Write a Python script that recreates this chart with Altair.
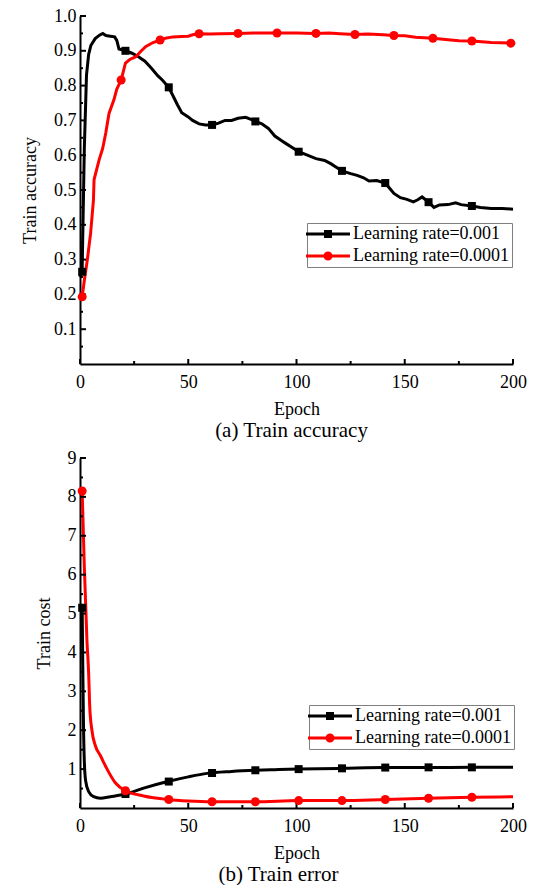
import altair as alt
import pandas as pd

FONT = "Liberation Serif"
SERIES = ["Learning rate=0.001", "Learning rate=0.0001"]
COLORS = ["black", "red"]

# ---------- (a) Train accuracy ----------
acc_black_epoch = [0, 1, 2, 3, 4, 5, 7, 9, 10.5, 12, 14, 16, 17, 18, 21, 24, 27, 30, 33, 36,
                   38, 41, 43, 45, 47, 50, 52, 55, 58, 61, 64, 67, 70, 73, 76.5, 79, 81, 84, 87, 90,
                   93, 95, 98, 101, 105, 109, 113, 116, 118, 121, 125, 128, 131, 133.5, 137, 141, 143, 145, 148, 151,
                   154, 156, 158, 161, 163.5, 166, 170, 173.5, 176, 181, 185, 190, 195, 200]
acc_black_value = [0.25, 0.27, 0.62, 0.83, 0.89, 0.915, 0.935, 0.945, 0.95, 0.944,
                   0.942, 0.94, 0.93, 0.905, 0.90, 0.893, 0.883, 0.87, 0.85, 0.828,
                   0.816, 0.795, 0.77, 0.745, 0.722, 0.71, 0.70, 0.69, 0.687, 0.687,
                   0.692, 0.70, 0.70, 0.706, 0.709, 0.703, 0.697, 0.69, 0.677, 0.655,
                   0.642, 0.634, 0.622, 0.61, 0.60, 0.59, 0.585, 0.575, 0.567, 0.555,
                   0.547, 0.542, 0.535, 0.526, 0.527, 0.52, 0.505, 0.49, 0.478, 0.473,
                   0.466, 0.472, 0.48, 0.465, 0.45, 0.457, 0.458, 0.463, 0.458, 0.454,
                   0.45, 0.447, 0.447, 0.445]
acc_black_mark_epoch = [1, 21, 41, 61, 81, 101, 121, 141, 161, 181]
acc_black_mark_value = [0.265, 0.90, 0.795, 0.687, 0.697, 0.61, 0.555, 0.52, 0.465, 0.454]

acc_red_epoch = [1, 2, 3.4, 4.9, 6.2, 6.5, 8.8, 10.5, 11.9, 13.4,
                 15.7, 17, 19, 20, 21, 23, 25.8, 28, 30.3, 33.5,
                 37, 40, 43, 47, 50, 52, 55, 60, 65, 73,
                 80, 91, 100, 109, 115, 120, 127, 133, 140, 145,
                 150, 155, 163, 170, 175, 181, 190, 199]
acc_red_value = [0.193, 0.24, 0.30, 0.376, 0.47, 0.53, 0.586, 0.62, 0.664, 0.72,
                 0.76, 0.79, 0.816, 0.84, 0.865, 0.875, 0.883, 0.898, 0.912, 0.923,
                 0.931, 0.937, 0.94, 0.941, 0.942, 0.946, 0.949, 0.948, 0.949, 0.95,
                 0.951, 0.951, 0.951, 0.95, 0.951, 0.949, 0.947, 0.948, 0.946, 0.944,
                 0.943, 0.939, 0.936, 0.932, 0.929, 0.928, 0.924, 0.922]
acc_red_mark_epoch = [1, 19, 37, 55, 73, 91, 109, 127, 145, 163, 181, 199]
acc_red_mark_value = [0.193, 0.816, 0.931, 0.949, 0.95, 0.951, 0.95, 0.947, 0.944, 0.936, 0.928, 0.922]

# ---------- (b) Train error ----------
cost_black_epoch = [1, 1.3, 1.6, 2, 2.6, 4, 6.3, 9.4, 14, 21,
                    29.4, 40.5, 50, 58.7, 70, 81, 90, 101, 121, 141,
                    161, 181, 200]
cost_black_value = [5.15, 3.6, 2.2, 1.2, 0.7, 0.42, 0.29, 0.25, 0.29, 0.36,
                    0.51, 0.68, 0.8, 0.89, 0.94, 0.97, 0.985, 1.0, 1.02, 1.04,
                    1.04, 1.045, 1.045]
cost_black_mark_epoch = [1, 21, 41, 61, 81, 101, 121, 141, 161, 181]
cost_black_mark_value = [5.15, 0.36, 0.68, 0.9, 0.97, 1.0, 1.02, 1.04, 1.045, 1.045]

cost_red_epoch = [1, 2, 3.2, 4, 4.5, 5.5, 7.1, 9.4, 12.5, 16.3,
                  20.9, 29.4, 40.5, 50, 61, 81, 101, 121, 141, 161,
                  181, 200]
cost_red_value = [8.15, 6.2, 4.32, 3.46, 2.6, 2.0, 1.6, 1.35, 1.0, 0.65,
                  0.445, 0.31, 0.22, 0.18, 0.16, 0.16, 0.19, 0.19, 0.22, 0.25,
                  0.275, 0.29]
cost_red_mark_epoch = [1, 21, 41, 61, 81, 101, 121, 141, 161, 181]
cost_red_mark_value = [8.15, 0.445, 0.22, 0.16, 0.16, 0.19, 0.19, 0.22, 0.25, 0.275]

# ---------- ticks ----------
x_label_values = [0, 50, 100, 150, 200]
x_minor_values = [25, 75, 125, 175]
acc_label_values = [0.1, 0.2, 0.3, 0.4, 0.5, 0.6, 0.7, 0.8, 0.9, 1.0]
acc_minor_values = [0.05, 0.15, 0.25, 0.35, 0.45, 0.55, 0.65, 0.75, 0.85, 0.95]
cost_label_values = [1, 2, 3, 4, 5, 6, 7, 8, 9]
cost_minor_values = [0.5, 1.5, 2.5, 3.5, 4.5, 5.5, 6.5, 7.5, 8.5]

W = 433
SQ_PATH = "M-4.4,0H4.4M-0.5,-0.5H0.5V0.5H-0.5Z"
CI_PATH = "M-4.4,0H4.4M0.6,0A0.6,0.6,0,1,1,-0.6,0A0.6,0.6,0,1,1,0.6,0Z"


def df(e, v):
    assert len(e) == len(v)
    return pd.DataFrame({"epoch": e, "value": v})


def panel(black, black_m, red, red_m, y_max, y_labels, y_minor, y_fmt, y_title,
          caption, cap_dx, leg_x, leg_y, H, interp):
    xs = alt.Scale(domain=[0, 200], nice=False, zero=False)
    ys = alt.Scale(domain=[0, y_max], nice=False, zero=False)
    x_main = alt.Axis(orient="bottom", values=x_label_values, ticks=False, domainColor="black",
                      domainWidth=2, labelFont=FONT, labelFontSize=18, labelColor="black",
                      labelPadding=9, labelFlush=False, title="Epoch", titleFont=FONT,
                      titleFontSize=18, titleFontWeight="normal", titleColor="black",
                      titlePadding=9, grid=False)
    y_main = alt.Axis(orient="left", values=y_labels, format=y_fmt, ticks=False, domainColor="black",
                      domainWidth=2, labelFont=FONT, labelFontSize=18, labelColor="black",
                      labelPadding=4, labelFlush=False, title=y_title, titleFont=FONT,
                      titleFontSize=18, titleFontWeight="normal", titleColor="black",
                      titlePadding=14, grid=False)

    # inward tick marks, placed by the shared scales
    def xticks(vals, length):
        return alt.Chart(pd.DataFrame({"t": vals})).mark_rule(color="black", strokeWidth=2).encode(
            x=alt.X("t:Q", scale=xs, axis=x_main), y=alt.value(H), y2=alt.value(H - length))

    def yticks(vals, length):
        return alt.Chart(pd.DataFrame({"t": vals})).mark_rule(color="black", strokeWidth=2).encode(
            y=alt.Y("t:Q", scale=ys, axis=y_main), x=alt.value(0), x2=alt.value(length))

    l_black = alt.Chart(black).mark_line(color="black", strokeWidth=3, interpolate=interp).encode(
        x=alt.X("epoch:Q", scale=xs, axis=x_main),
        y=alt.Y("value:Q", scale=ys, axis=y_main))
    l_red = alt.Chart(red).mark_line(color="red", strokeWidth=3, interpolate=interp).encode(
        x=alt.X("epoch:Q", scale=xs, axis=x_main),
        y=alt.Y("value:Q", scale=ys, axis=y_main))
    p_black = alt.Chart(black_m).mark_point(shape="square", filled=True, size=64, color="black",
                                            opacity=1).encode(
        x=alt.X("epoch:Q", scale=xs, axis=x_main),
        y=alt.Y("value:Q", scale=ys, axis=y_main))
    p_red = alt.Chart(red_m).mark_point(shape="circle", filled=True, size=81, color="red",
                                        opacity=1).encode(
        x=alt.X("epoch:Q", scale=xs, axis=x_main),
        y=alt.Y("value:Q", scale=ys, axis=y_main))

    leg = alt.Legend(orient="none", legendX=leg_x, legendY=leg_y, title=None, symbolSize=100,
                     symbolStrokeWidth=3, symbolOffset=10, labelOffset=16, labelFont=FONT,
                     labelFontSize=18, labelColor="black", labelLimit=0, rowPadding=4, padding=2,
                     strokeColor="#7f7f7f", fillColor="white")
    leg_df = pd.DataFrame({"series": SERIES})
    legend_layer = alt.Chart(leg_df).transform_filter("false").mark_point(filled=True, opacity=1).encode(
        fill=alt.Fill("series:N", scale=alt.Scale(domain=SERIES, range=COLORS), legend=leg),
        stroke=alt.Stroke("series:N", scale=alt.Scale(domain=SERIES, range=COLORS), legend=leg),
        shape=alt.Shape("series:N", scale=alt.Scale(domain=SERIES, range=[SQ_PATH, CI_PATH]), legend=leg),
    )

    return alt.layer(
        l_black, l_red,
        xticks(x_label_values, 5), xticks(x_minor_values, 3),
        yticks(y_labels, 6), yticks(y_minor, 3),
        p_black, p_red, legend_layer).properties(
        width=W, height=H,
        title=alt.TitleParams(text=caption, orient="bottom", anchor="middle", font=FONT,
                              fontSize=21, fontWeight="normal", color="black", offset=2, dx=cap_dx))


top = panel(df(acc_black_epoch, acc_black_value), df(acc_black_mark_epoch, acc_black_mark_value),
            df(acc_red_epoch, acc_red_value), df(acc_red_mark_epoch, acc_red_mark_value),
            1.0, acc_label_values, acc_minor_values, ".1f", "Train accuracy",
            "(a) Train accuracy", -5, 227, 207, 348, "linear")
bottom = panel(df(cost_black_epoch, cost_black_value), df(cost_black_mark_epoch, cost_black_mark_value),
               df(cost_red_epoch, cost_red_value), df(cost_red_mark_epoch, cost_red_mark_value),
               9, cost_label_values, cost_minor_values, "d", "Train cost",
               "(b) Train error", -18, 229, 247, 350, "monotone")

chart = alt.vconcat(top, bottom, spacing=8).resolve_scale(
    fill="independent", stroke="independent", shape="independent").resolve_legend(
    fill="independent", stroke="independent", shape="independent").properties(
    padding={"left": 21, "top": 7, "right": 0, "bottom": 0}, background="white").configure_view(
    stroke=None).configure_axis(grid=False)

chart.save("out.html", embed_options={"renderer": "svg", "actions": False})
